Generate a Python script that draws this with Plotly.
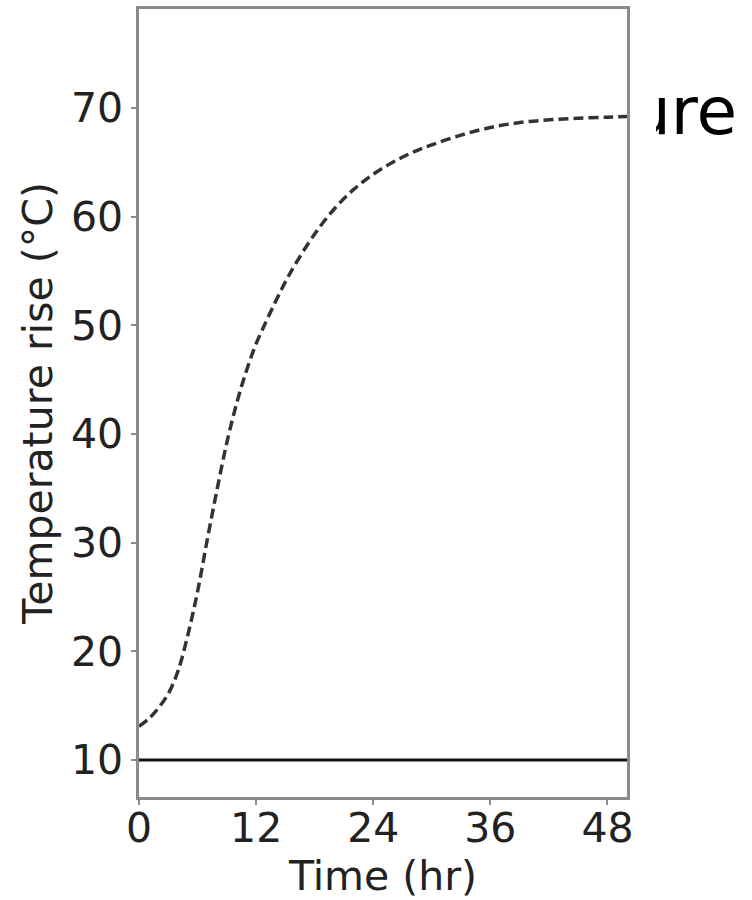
import plotly.graph_objects as go

# Temperature rise of the heated body over two days (dashed curve)
hours = [0, 1, 2, 3, 4, 5, 6, 7, 8, 9, 10, 11, 12, 13, 14, 15, 16, 18, 20,
         22, 24, 26, 28, 30, 33, 36, 39, 42, 45, 48, 50]
temp_rise = [13.1, 13.8, 14.8, 16.1, 18.2, 21.5, 25.5, 30.3, 34.9, 39.2, 42.8,
             45.8, 48.3, 50.3, 52.2, 54.0, 55.6, 58.4, 60.7, 62.5, 63.9, 65.0,
             65.9, 66.6, 67.5, 68.2, 68.65, 68.9, 69.05, 69.15, 69.2]

# Reference level (solid line)
ref_hours = [0, 50]
ref_temp = [10, 10]

x_ticks = [0, 12, 24, 36, 48]
y_ticks = [10, 20, 30, 40, 50, 60, 70]

W, H = 752, 900
FONT = dict(family="DejaVu Sans", size=41, color="#222222")
FRAME = "#8a8a8a"

fig = go.Figure()
fig.add_trace(go.Scatter(
    x=hours, y=temp_rise, mode="lines", line_shape="spline",
    line=dict(color="#333333", width=3.5, dash="10px,5px"),
    showlegend=False, hoverinfo="skip"))
fig.add_trace(go.Scatter(
    x=ref_hours, y=ref_temp, mode="lines",
    line=dict(color="#111111", width=3),
    showlegend=False, hoverinfo="skip"))

# Fragment of a neighbouring heading, clipped at its panel edge
fig.add_trace(go.Scatter(
    x=[27], y=[0.52], mode="text", text=["ure"], textposition="middle center",
    textfont=dict(family="DejaVu Sans", size=66, color="#000000"),
    xaxis="x2", yaxis="y2", cliponaxis=True,
    showlegend=False, hoverinfo="skip"))

fig.update_layout(
    width=W, height=H,
    margin=dict(l=0, r=0, t=0, b=0, autoexpand=False),
    paper_bgcolor="white", plot_bgcolor="white",
    font=FONT,
    xaxis=dict(
        domain=[139 / W, 627 / W], range=[0, 50], anchor="y", automargin=False,
        tickvals=x_ticks, ticktext=[str(v) for v in x_ticks],
        showline=True, mirror=True, linecolor=FRAME, linewidth=2.5,
        ticks="outside", ticklen=5, tickwidth=1.5, tickcolor=FRAME,
        ticklabelstandoff=-12,
        showgrid=False, zeroline=False, tickfont=FONT,
        title=dict(text="Time (hr)", font=FONT, standoff=6),
    ),
    yaxis=dict(
        domain=[103 / H, 891 / H], range=[6.6, 79.1], anchor="x", automargin=False,
        tickvals=y_ticks, ticktext=[str(v) for v in y_ticks],
        showline=True, mirror=True, linecolor=FRAME, linewidth=2.5,
        ticks="outside", ticklen=5, tickwidth=1.5, tickcolor=FRAME,
        showgrid=False, zeroline=False, tickfont=FONT,
        title=dict(text="Temperature rise (°C)", font=FONT, standoff=6),
    ),
    xaxis2=dict(domain=[656 / W, 1], range=[0, 96], anchor="y2", automargin=False,
                visible=False, fixedrange=True),
    yaxis2=dict(domain=[(H - 180) / H, (H - 60) / H], range=[0, 1], automargin=False,
                anchor="x2", visible=False, fixedrange=True),
)

fig.write_html("out.html")
